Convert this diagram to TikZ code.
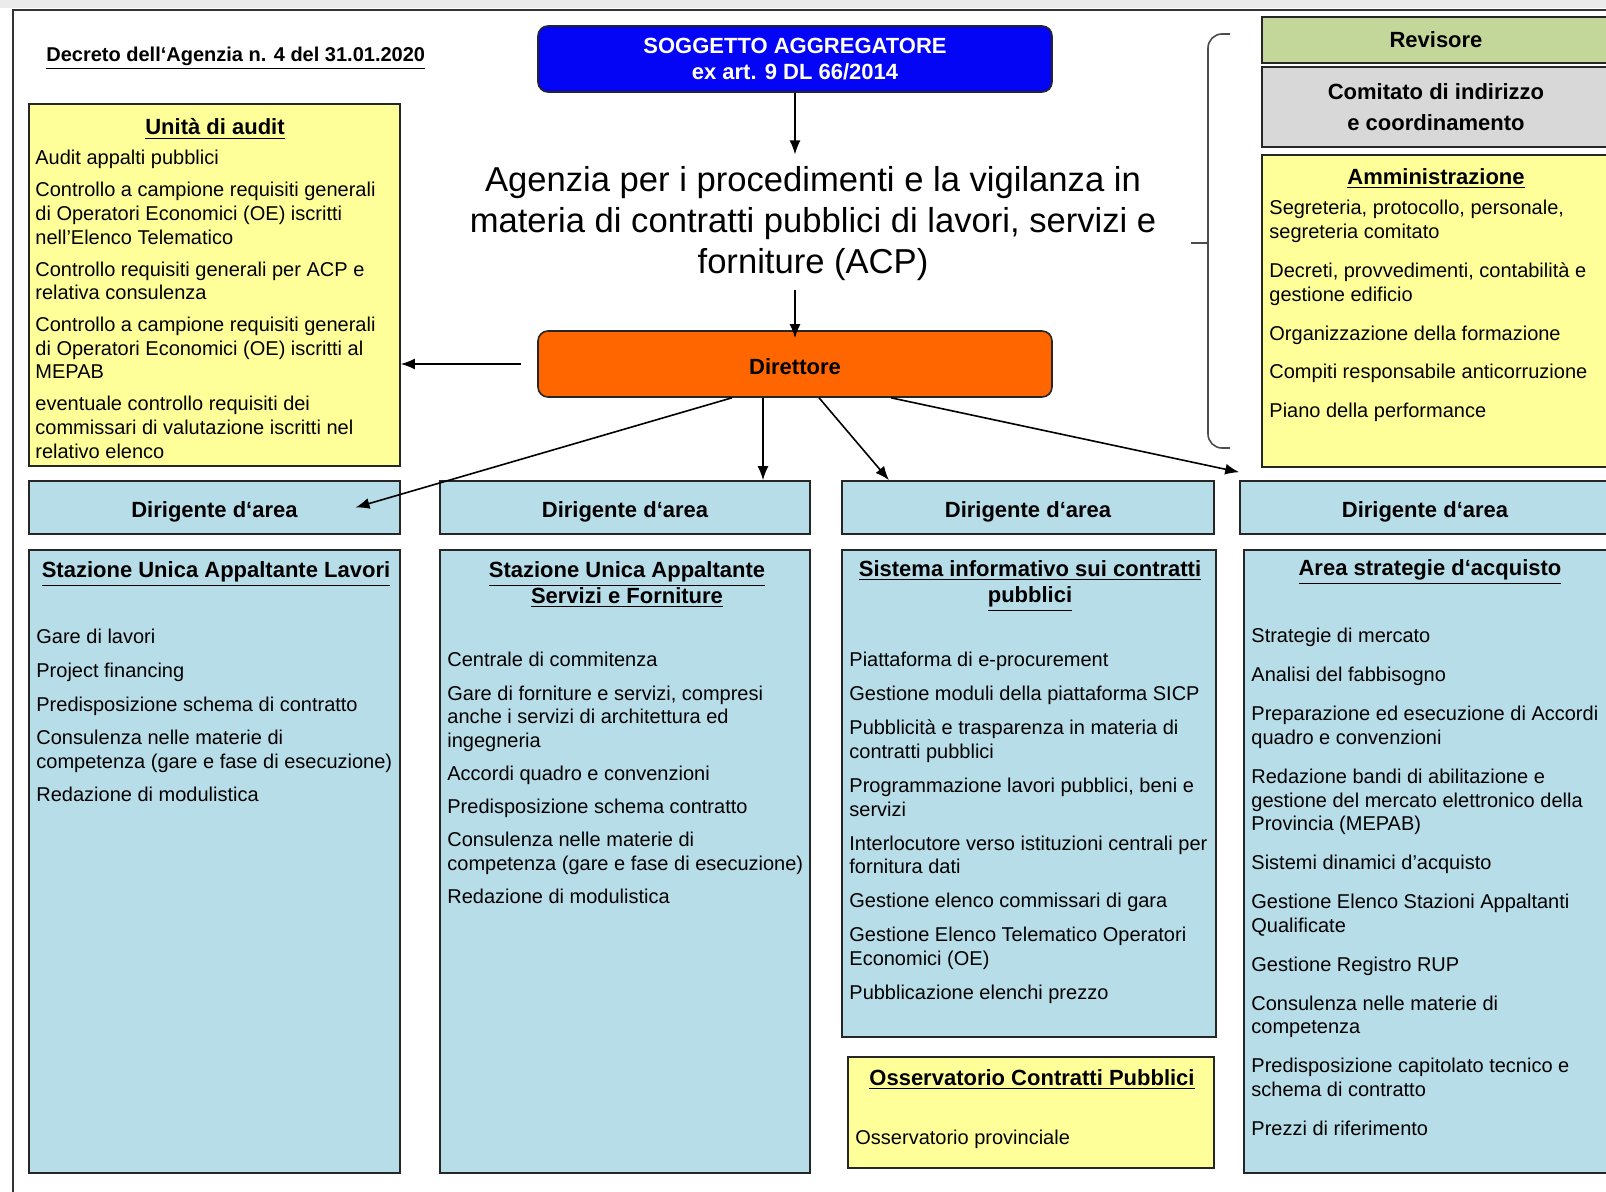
\documentclass[tikz,border=0pt]{standalone}
\usepackage{fontspec}
\setmainfont{Liberation Sans}
\usetikzlibrary{arrows.meta, positioning, fit}

\definecolor{aggblue}{RGB}{5,5,245}
\definecolor{dirorange}{RGB}{255,102,0}
\definecolor{noteyellow}{RGB}{255,255,153}
\definecolor{arealblue}{RGB}{183,221,232}
\definecolor{revgreen}{RGB}{196,215,155}
\definecolor{comgray}{RGB}{216,216,216}

\begin{document}
\begin{tikzpicture}[
    x=0.5pt, y=-0.5pt,
    box/.style={rectangle, draw=black!85, line width=0.8pt, inner sep=0pt},
    roundbox/.style={box, rounded corners=5pt, minimum width=257pt, minimum height=33pt},
    area/.style={box, fill=arealblue},
    note/.style={box, fill=noteyellow},
    boldtext/.style={font=\fontsize{11}{13}\selectfont\bfseries},
    head/.style={font=\fontsize{11}{13}\selectfont\bfseries, align=center, inner sep=0pt},
    items/.style={font=\fontsize{10}{11.8}\selectfont, align=left, anchor=north west, inner sep=0pt},
    arrow/.style={-{Latex[length=7pt,width=5.5pt]}, line width=0.8pt}
]
\useasboundingbox (0,0) rectangle (1606,1192);
\clip (0,0) rectangle (1606,1192);

% page frame
\fill[black!8] (0,0) rectangle (1606,8);
\draw[line width=0.8pt, black!80] (13,1200) -- (13,10) -- (1620,10);

\node (decreto) [anchor=west, inner sep=0pt, font=\fontsize{10}{12}\selectfont\bfseries] at (46,58) {\underline{Decreto dell‘Agenzia n. 4 del 31.01.2020}};

% top of the chart
\node (sa) [roundbox, fill=aggblue, text=white, align=center, boldtext] at (795,59) {SOGGETTO AGGREGATORE\\ex art. 9 DL 66/2014};
\node (acp) [align=center, inner sep=0pt, font=\fontsize{17.3}{20.5}\selectfont] at (813,224) {Agenzia per i procedimenti e la vigilanza in\\materia di contratti pubblici di lavori, servizi e\\forniture (ACP)};
\node (dir) [roundbox, fill=dirorange, boldtext, text height=11pt, text depth=0pt] at (795,364) {Direttore};

% audit unit
\node (audit) [note, fit={(29,104) (400,466)}] {};
\node (audit_head) [head] at (215,129) {\underline{Unità di audit}};
\node (audit_items) [items] at (35,150) {Audit appalti pubblici\\[4.2pt]
  Controllo a campione requisiti generali\\di Operatori Economici (OE) iscritti\\nell’Elenco Telematico\\[4.2pt]
  Controllo requisiti generali per ACP e\\relativa consulenza\\[4.2pt]
  Controllo a campione requisiti generali\\di Operatori Economici (OE) iscritti al\\MEPAB\\[4.2pt]
  eventuale controllo requisiti dei\\commissari di valutazione iscritti nel\\relativo elenco};

% right column
\node (rev) [box, fill=revgreen, boldtext, minimum width=174pt, minimum height=23pt] at (1436,40) {Revisore};
\node (comitato) [box, fill=comgray, align=center, font=\fontsize{11}{15.5}\selectfont\bfseries, minimum width=174pt, minimum height=40pt] at (1436,107) {Comitato di indirizzo\\e coordinamento};
\node (amm) [note, fit={(1262,155) (1610,467)}] {};
\node (amm_head) [head] at (1436,179) {\underline{Amministrazione}};
\node (amm_items) [items, font=\fontsize{10}{12}\selectfont] at (1269,200) {Segreteria, protocollo, personale,\\segreteria comitato\\[7.3pt]
  Decreti, provvedimenti, contabilità e\\gestione edificio\\[7.3pt]
  Organizzazione della formazione\\[7.3pt]
  Compiti responsabile anticorruzione\\[7.3pt]
  Piano della performance};
\draw[line width=0.8pt, black!70, rounded corners=7pt] (1230,34) -- (1208,34) -- (1208,230)
  .. controls (1208,243) .. (1183,243) .. controls (1208,243) .. (1208,256) -- (1208,448) -- (1230,448);

% area managers
\foreach \n/\xc/\w in {1/214.5/185.5, 2/625/185, 3/1028/186, 4/1425/185}
  \node (d\n) [area, boldtext, text height=9.5pt, text depth=0pt, minimum width=\w pt, minimum height=26.5pt] at (\xc,507.5) {Dirigente d‘area};

% areas
\node (lavori) [area, fit={(29,550) (400,1173)}] {};
\node (lavori_head) [head] at (216,574) {\underline{Stazione Unica Appaltante Lavori}};
\node (lavori_items) [items] at (36,629) {Gare di lavori\\[5pt]
  Project financing\\[5pt]
  Predisposizione schema di contratto\\[5pt]
  Consulenza nelle materie di\\competenza (gare e fase di esecuzione)\\[5pt]
  Redazione di modulistica};

\node (servizi) [area, fit={(440,550) (810,1173)}] {};
\node (servizi_head) [head] at (627,585) {\underline{Stazione Unica Appaltante}\\\underline{Servizi e Forniture}};
\node (servizi_items) [items] at (447,652) {Centrale di commitenza\\[4.8pt]
  Gare di forniture e servizi, compresi\\anche i servizi di architettura ed\\ingegneria\\[4.8pt]
  Accordi quadro e convenzioni\\[4.8pt]
  Predisposizione schema contratto\\[4.8pt]
  Consulenza nelle materie di\\competenza (gare e fase di esecuzione)\\[4.8pt]
  Redazione di modulistica};

\node (sicp) [area, fit={(842,550) (1216,1037)}] {};
\node (sicp_head) [head] at (1030,586) {\underline{Sistema informativo sui contratti}\\\underline{pubblici}};
\node (sicp_items) [items] at (849,652) {Piattaforma di e-procurement\\[5.2pt]
  Gestione moduli della piattaforma SICP\\[5.2pt]
  Pubblicità e trasparenza in materia di\\contratti pubblici\\[5.2pt]
  Programmazione lavori pubblici, beni e\\servizi\\[5.2pt]
  Interlocutore verso istituzioni centrali per\\fornitura dati\\[5.2pt]
  Gestione elenco commissari di gara\\[5.2pt]
  Gestione Elenco Telematico Operatori\\Economici (OE)\\[5.2pt]
  Pubblicazione elenchi prezzo};

\node (osserv) [note, fit={(848,1057) (1214,1168)}] {};
\node (osserv_head) [head] at (1032,1080) {\underline{Osservatorio Contratti Pubblici}};
\node (osserv_items) [items, anchor=west] at (855,1139) {Osservatorio provinciale};

\node (strategie) [area, fit={(1244,550) (1610,1173)}] {};
\node (strategie_head) [head] at (1430,572) {\underline{Area strategie d‘acquisto}};
\node (strategie_items) [items] at (1251,628) {Strategie di mercato\\[7.7pt]
  Analisi del fabbisogno\\[7.7pt]
  Preparazione ed esecuzione di Accordi\\quadro e convenzioni\\[7.7pt]
  Redazione bandi di abilitazione e\\gestione del mercato elettronico della\\Provincia (MEPAB)\\[7.7pt]
  Sistemi dinamici d’acquisto\\[7.7pt]
  Gestione Elenco Stazioni Appaltanti\\Qualificate\\[7.7pt]
  Gestione Registro RUP\\[7.7pt]
  Consulenza nelle materie di\\competenza\\[7.7pt]
  Predisposizione capitolato tecnico e\\schema di contratto\\[7.7pt]
  Prezzi di riferimento};

% connectors
\draw[arrow, shorten >=6pt] (sa.south) -- (sa.south |- acp.north);
\draw[arrow, shorten <=4pt, shorten >=-4pt] (dir.north |- acp.south) -- (dir.north);
\draw[arrow, shorten <=8pt] (dir.west) -- (dir.west -| audit.east);
\draw[arrow] ([xshift=-31.5pt]dir.south) -- ([xshift=70.5pt]d1.center);
\draw[arrow] ([xshift=-16pt]dir.south) -- ([xshift=69pt]d2.north);
\draw[arrow] ([xshift=12pt]dir.south) -- ([xshift=-69.5pt]d3.north);
\draw[arrow] ([xshift=48pt]dir.south) -- ([yshift=4pt]d4.north west);

\end{tikzpicture}
\end{document}
